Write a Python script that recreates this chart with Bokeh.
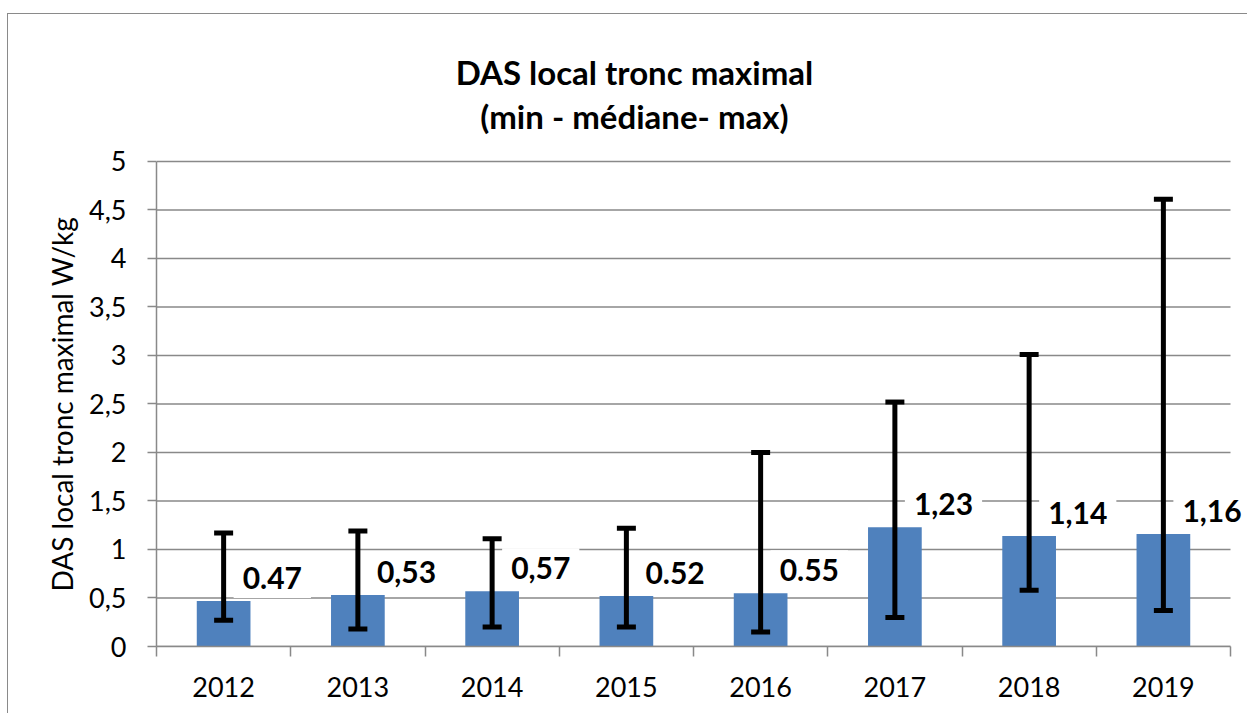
import math
from bokeh.plotting import figure
from bokeh.models import (Range1d, LinearAxis, FixedTicker, Whisker, TeeHead, Label,
                          ColumnDataSource, Title)
from bokeh.embed import file_html
from bokeh.resources import INLINE

years = ["2012", "2013", "2014", "2015", "2016", "2017", "2018", "2019"]
medians = [0.47, 0.53, 0.57, 0.52, 0.55, 1.23, 1.14, 1.16]
mins = [0.27, 0.18, 0.20, 0.20, 0.15, 0.30, 0.58, 0.37]
maxs = [1.17, 1.19, 1.11, 1.22, 2.00, 2.52, 3.01, 4.61]
value_labels = ["0.47", "0,53", "0,57", "0.52", "0.55", "1,23", "1,14", "1,16"]
y_ticks = [0, 0.5, 1, 1.5, 2, 2.5, 3, 3.5, 4, 4.5, 5]
y_tick_labels = ["0", "0,5", "1", "1,5", "2", "2,5", "3", "3,5", "4", "4,5", "5"]
title_lines = ["DAS local tronc maximal", "(min - médiane- max)"]
y_title = "DAS local tronc maximal W/kg"

FONT = "Lato"
GRID = "#898989"

n = len(years)
xpos = [i + 0.5 for i in range(n)]          # category centres
bounds_x = list(range(n + 1))               # category boundaries
ymax = y_ticks[-1]
src = ColumnDataSource(dict(x=xpos, median=medians, lo=mins, hi=maxs, lab=value_labels))

# frame is extended right/up so that labels and titles are not clipped
p = figure(width=1240, height=700, x_range=Range1d(0, n + 0.134), y_range=Range1d(0, 6.515),
           output_backend="svg", toolbar_location=None, x_axis_location=None,
           min_border_left=148, min_border_right=0, min_border_top=0, min_border_bottom=68)
p.outline_line_color = None
p.background_fill_color = "white"
p.border_fill_color = "white"
p.styles = {"margin-left": "7px", "margin-top": "13px",
            "border-left": "1.5px solid #8a8a8a", "border-top": "1.5px solid #8a8a8a"}
p.xgrid.grid_line_color = None
p.ygrid.grid_line_color = None

# horizontal gridlines
p.segment(x0=[0] * len(y_ticks), x1=[n] * len(y_ticks), y0=y_ticks, y1=y_ticks,
          line_color=GRID, line_width=1.5)

# y axis
yax = p.yaxis[0]
yax.bounds = (0, ymax)
yax.ticker = FixedTicker(ticks=y_ticks)
yax.major_label_overrides = {t: s for t, s in zip(y_ticks, y_tick_labels)}
yax.major_tick_out = 9
yax.major_tick_in = 0
yax.minor_tick_line_color = None
yax.axis_line_color = GRID
yax.axis_line_width = 1.5
yax.major_tick_line_color = GRID
yax.major_tick_line_width = 1.5
yax.major_label_text_font = FONT
yax.major_label_text_font_size = "27px"
yax.major_label_text_color = "black"
yax.major_label_standoff = 21

# y title on the left side
p.add_layout(Title(text=y_title, align="left", offset=55, standoff=16, text_font=FONT,
                   text_font_size="28px", text_font_style="normal", text_color="black"), "left")

# x axis: labels at centres, minor ticks at boundaries
xax = LinearAxis(ticker=FixedTicker(ticks=xpos, minor_ticks=bounds_x), bounds=(0, n),
                 major_label_overrides={x: y for x, y in zip(xpos, years)},
                 axis_line_color=GRID, axis_line_width=1.5,
                 major_tick_line_color=None,
                 minor_tick_line_color=GRID, minor_tick_line_width=1.5,
                 minor_tick_out=10, minor_tick_in=0,
                 major_label_text_font=FONT, major_label_text_font_size="27px",
                 major_label_text_color="black", major_label_standoff=20)
p.add_layout(xax, "below")

# bars
p.vbar(x="x", top="median", width=0.4, source=src, fill_color="#4F81BD", line_color=None)

# value labels
for x, m, t in zip(xpos, medians, value_labels):
    p.add_layout(Label(x=x, y=m, text=t, x_offset=10, y_offset=23, text_align="left",
                       text_baseline="middle", text_font=FONT, text_font_style="bold",
                       text_font_size="30px", text_color="black",
                       background_fill_color="white", padding=9))

# error bars (drawn above bars and labels)
p.add_layout(Whisker(source=src, base="x", lower="lo", upper="hi", line_width=5,
                     line_color="black", level="overlay",
                     upper_head=TeeHead(size=19, line_width=5, line_color="black"),
                     lower_head=TeeHead(size=19, line_width=5, line_color="black")))

# two-line chart title
p.add_layout(Label(x=3.56, y=5.918, text=title_lines[0], text_align="center",
                   text_baseline="middle", text_font=FONT, text_font_style="bold",
                   text_font_size="33px", text_color="black"))
p.add_layout(Label(x=3.56, y=5.47, text=title_lines[1], text_align="center",
                   text_baseline="middle", text_font=FONT, text_font_style="bold",
                   text_font_size="33px", text_color="black"))

open("out.html", "w").write(file_html(p, INLINE))
